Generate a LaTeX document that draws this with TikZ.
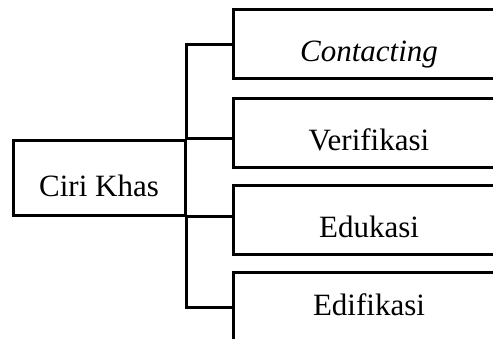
\documentclass[tikz,border=0pt]{standalone}
\usepackage{fontspec}
\setmainfont{Liberation Serif}[ItalicFont={Liberation Serif Italic}]
\usetikzlibrary{positioning,calc}

\begin{document}
\begin{tikzpicture}[x=1pt, y=-1pt, every node/.style={font=\fontsize{31}{37}\selectfont, align=center}]
\tikzset{
  root/.style={draw, line width=3pt, minimum width=172pt, minimum height=75pt, text height=37pt, text depth=0pt, inner sep=0pt},
  branch/.style={draw, line width=3pt, minimum width=272pt, minimum height=69pt, text height=35pt, text depth=0pt, inner sep=0pt},
  link/.style={line width=3pt}
}
  \clip (0,0) rectangle (493,338);
  \node[root] (ciri) at (99,177.5) {Ciri Khas};
  \node[branch] (contact) at (369,44) {\textit{Contacting}};
  \node[branch] (verif) at (369,132.5) {Verifikasi};
  \node[branch] (edukasi) at (369,220) {Edukasi};
  \node[branch, text height=16pt] (edifikasi) at (369,307) {Edifikasi};
  \draw[link] (contact.west) -| (ciri.north east);
  \draw[link] (ciri.north east) -- (ciri.north east -| verif.west);
  \draw[link] (ciri.south east) -- (ciri.south east -| edukasi.west);
  \draw[link] (ciri.south east) |- (edifikasi.west);
\end{tikzpicture}
\end{document}
